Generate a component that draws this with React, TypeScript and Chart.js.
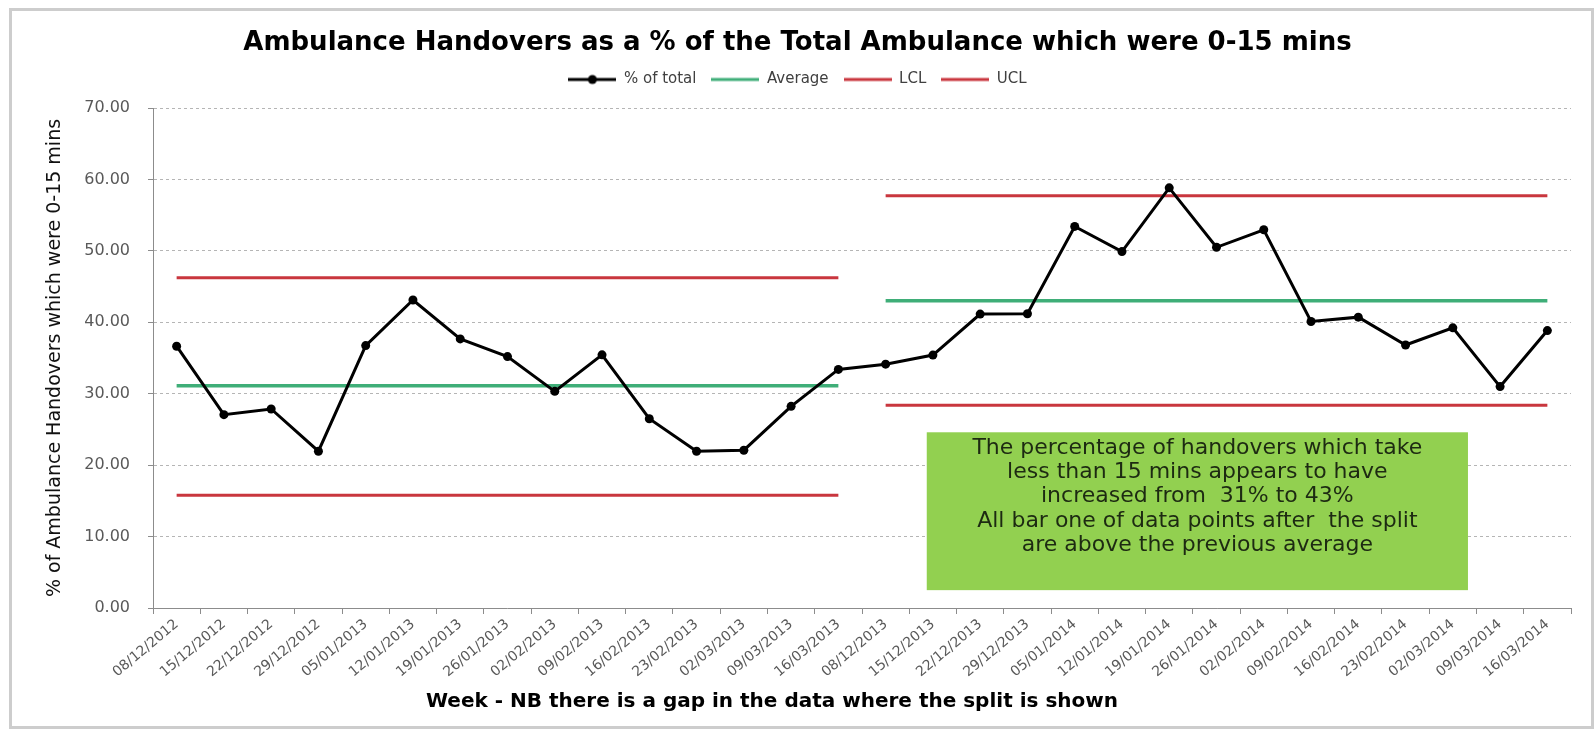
import React, { useEffect, useRef } from 'react';
import { Chart, registerables } from 'chart.js';

Chart.register(...registerables);

// ---------------- data ----------------
const WEEKS = [
  '08/12/2012', '15/12/2012', '22/12/2012', '29/12/2012', '05/01/2013', '12/01/2013',
  '19/01/2013', '26/01/2013', '02/02/2013', '09/02/2013', '16/02/2013', '23/02/2013',
  '02/03/2013', '09/03/2013', '16/03/2013',
  '08/12/2013', '15/12/2013', '22/12/2013', '29/12/2013', '05/01/2014', '12/01/2014',
  '19/01/2014', '26/01/2014', '02/02/2014', '09/02/2014', '16/02/2014', '23/02/2014',
  '02/03/2014', '09/03/2014', '16/03/2014',
];

const PCT_OF_TOTAL = [
  36.65, 27.07, 27.86, 21.95, 36.74, 43.12, 37.67, 35.2, 30.33, 35.44, 26.5, 21.95, 22.09, 28.23, 33.4,
  34.14, 35.41, 41.15, 41.2, 53.42, 49.9, 58.82, 50.5, 52.95, 40.11, 40.72, 36.82, 39.22, 31.0, 38.84,
];

const AVERAGE = [
  31.1, 31.1, 31.1, 31.1, 31.1, 31.1, 31.1, 31.1, 31.1, 31.1, 31.1, 31.1, 31.1, 31.1, 31.1,
  43.0, 43.0, 43.0, 43.0, 43.0, 43.0, 43.0, 43.0, 43.0, 43.0, 43.0, 43.0, 43.0, 43.0, 43.0,
];

const LCL = [
  15.8, 15.8, 15.8, 15.8, 15.8, 15.8, 15.8, 15.8, 15.8, 15.8, 15.8, 15.8, 15.8, 15.8, 15.8,
  28.4, 28.4, 28.4, 28.4, 28.4, 28.4, 28.4, 28.4, 28.4, 28.4, 28.4, 28.4, 28.4, 28.4, 28.4,
];

const UCL = [
  46.25, 46.25, 46.25, 46.25, 46.25, 46.25, 46.25, 46.25, 46.25, 46.25, 46.25, 46.25, 46.25, 46.25, 46.25,
  57.7, 57.7, 57.7, 57.7, 57.7, 57.7, 57.7, 57.7, 57.7, 57.7, 57.7, 57.7, 57.7, 57.7, 57.7,
];

// index of the last week before the gap in the data
const SPLIT_INDEX = 14;

const Y_MIN = 0;
const Y_MAX = 70;
const Y_STEP = 10;

const TITLE = 'Ambulance Handovers as a % of the Total Ambulance which were 0-15 mins';
const Y_TITLE = '% of Ambulance Handovers which were 0-15 mins';
const X_TITLE = 'Week - NB there is a gap in the data where the split is shown';

const NOTE_LINES = [
  'The percentage of handovers which take',
  'less than 15 mins appears to have',
  'increased from  31% to 43%',
  'All bar one of data points after  the split',
  'are above the previous average',
];
// note box extent in axis units (category index, value)
const NOTE_X_RANGE = [15.87, 27.32];
const NOTE_Y_RANGE = [24.6, 2.5];

// ---------------- styles ----------------
const FONT = "'DejaVu Sans', sans-serif";
const BLACK = '#000000';
const GREEN = '#3fae78';
const RED = '#c9363e';
const AXIS = '#8c8c8c';

function makeIcon(color: string, lineWidth: number, dot: boolean) {
  const c = document.createElement('canvas');
  c.width = 48;
  c.height = 12;
  const g = c.getContext('2d')!;
  g.strokeStyle = color;
  g.lineWidth = lineWidth;
  g.beginPath();
  g.moveTo(0, 6);
  g.lineTo(48, 6);
  g.stroke();
  if (dot) {
    g.fillStyle = color;
    g.beginPath();
    g.arc(24, 6, 4.5, 0, Math.PI * 2);
    g.fill();
  }
  return c;
}

const notePlugin = {
  id: 'noteAndXTitle',
  afterDraw(chart: any) {
    const { ctx, scales } = chart;
    const x = scales.x;
    const y = scales.y;
    const left = x.getPixelForValue(NOTE_X_RANGE[0]);
    const right = x.getPixelForValue(NOTE_X_RANGE[1]);
    const top = y.getPixelForValue(NOTE_Y_RANGE[0]);
    const bottom = y.getPixelForValue(NOTE_Y_RANGE[1]);
    ctx.save();
    ctx.fillStyle = '#92d050';
    ctx.fillRect(left, top, right - left, bottom - top);
    ctx.fillStyle = '#1d2a12';
    ctx.font = `22px ${FONT}`;
    ctx.textAlign = 'center';
    ctx.textBaseline = 'middle';
    const cx = (left + right) / 2;
    NOTE_LINES.forEach((line, i) => {
      ctx.fillText(line, cx, top + 16 + i * 24.2);
    });
    // x-axis title
    ctx.fillStyle = '#000';
    ctx.font = `bold 20px ${FONT}`;
    ctx.fillText(X_TITLE, 772, 702);
    ctx.restore();
  },
};

export default function App() {
  const ref = useRef<HTMLCanvasElement>(null);

  useEffect(() => {
    const canvas = ref.current!;
    const icons = [
      makeIcon(BLACK, 3, true),
      makeIcon(GREEN, 3, false),
      makeIcon(RED, 3, false),
      makeIcon(RED, 3, false),
    ];
    const hideGap = (ctx: any) => (ctx.p0DataIndex === SPLIT_INDEX ? 'rgba(0,0,0,0)' : undefined);

    const chart = new Chart(canvas, {
      type: 'line',
      data: {
        labels: WEEKS,
        datasets: [
          {
            label: '% of total',
            data: PCT_OF_TOTAL,
            borderColor: BLACK,
            backgroundColor: BLACK,
            borderWidth: 3,
            pointRadius: 4.5,
            pointBackgroundColor: BLACK,
            pointBorderColor: BLACK,
            pointBorderWidth: 0,
            tension: 0,
            order: 0,
          },
          {
            label: 'Average',
            data: AVERAGE,
            borderColor: GREEN,
            backgroundColor: GREEN,
            borderWidth: 3.5,
            pointRadius: 0,
            segment: { borderColor: hideGap },
            order: 1,
          },
          {
            label: 'LCL',
            data: LCL,
            borderColor: RED,
            backgroundColor: RED,
            borderWidth: 3,
            pointRadius: 0,
            segment: { borderColor: hideGap },
            order: 1,
          },
          {
            label: 'UCL',
            data: UCL,
            borderColor: RED,
            backgroundColor: RED,
            borderWidth: 3,
            pointRadius: 0,
            segment: { borderColor: hideGap },
            order: 1,
          },
        ],
      },
      options: {
        responsive: false,
        animation: false,
        events: [],
        layout: { padding: { top: 0, left: 24, right: 24, bottom: 0 } },
        plugins: {
          tooltip: { enabled: false },
          title: {
            display: true,
            text: TITLE,
            color: '#000',
            font: { family: FONT, size: 26, weight: 'bold', lineHeight: 1 },
            padding: { top: 30, bottom: 1 },
          },
          subtitle: {
            display: true,
            text: '',
            weight: 500,
            padding: 0,
            font: { size: 11, lineHeight: 1 },
          },
          legend: {
            position: 'top',
            labels: {
              usePointStyle: true,
              pointStyleWidth: 48,
              padding: 15,
              color: '#404040',
              font: { family: FONT, size: 15 },
              generateLabels: (c: any) =>
                (Chart.defaults.plugins.legend.labels.generateLabels as any)(c).map((item: any) => ({
                  ...item,
                  pointStyle: icons[item.datasetIndex],
                })),
            },
          },
        },
        scales: {
          x: {
            offset: true,
            grid: {
              offset: true,
              drawOnChartArea: false,
              drawTicks: true,
              tickLength: 6,
              color: AXIS,
              tickColor: AXIS,
            },
            border: { display: true, color: AXIS, width: 1 },
            ticks: {
              autoSkip: false,
              minRotation: 40,
              maxRotation: 40,
              padding: 2,
              color: '#595959',
              font: { family: FONT, size: 14 },
            },
            afterFit: (s: any) => {
              s.height = 122;
            },
          },
          y: {
            min: Y_MIN,
            max: Y_MAX,
            ticks: {
              stepSize: Y_STEP,
              padding: 18,
              color: '#595959',
              font: { family: FONT, size: 16 },
              callback: (v: any) => Number(v).toFixed(2),
            },
            grid: {
              color: '#b5b5b5',
              drawTicks: true,
              tickLength: 5,
              tickColor: AXIS,
            },
            border: { display: true, color: AXIS, width: 1, dash: [3, 3] },
            title: {
              display: true,
              text: Y_TITLE,
              color: '#111',
              padding: { top: 20, bottom: 0 },
              font: { family: FONT, size: 19 },
            },
            afterFit: (s: any) => {
              s.width = 129;
            },
          },
        },
      } as any,
      plugins: [notePlugin],
    });
    return () => chart.destroy();
  }, []);

  return (
    <div style={{ position: 'fixed', left: 0, top: 0, width: 1595, height: 730, background: '#fff' }}>
      <canvas ref={ref} width={1595} height={730} style={{ display: 'block', width: 1595, height: 730 }} />
      <div
        style={{
          position: 'absolute',
          left: 9,
          top: 8,
          width: 1585,
          height: 721,
          border: '3px solid #cdcdcd',
          boxSizing: 'border-box',
          pointerEvents: 'none',
        }}
      />
    </div>
  );
}
